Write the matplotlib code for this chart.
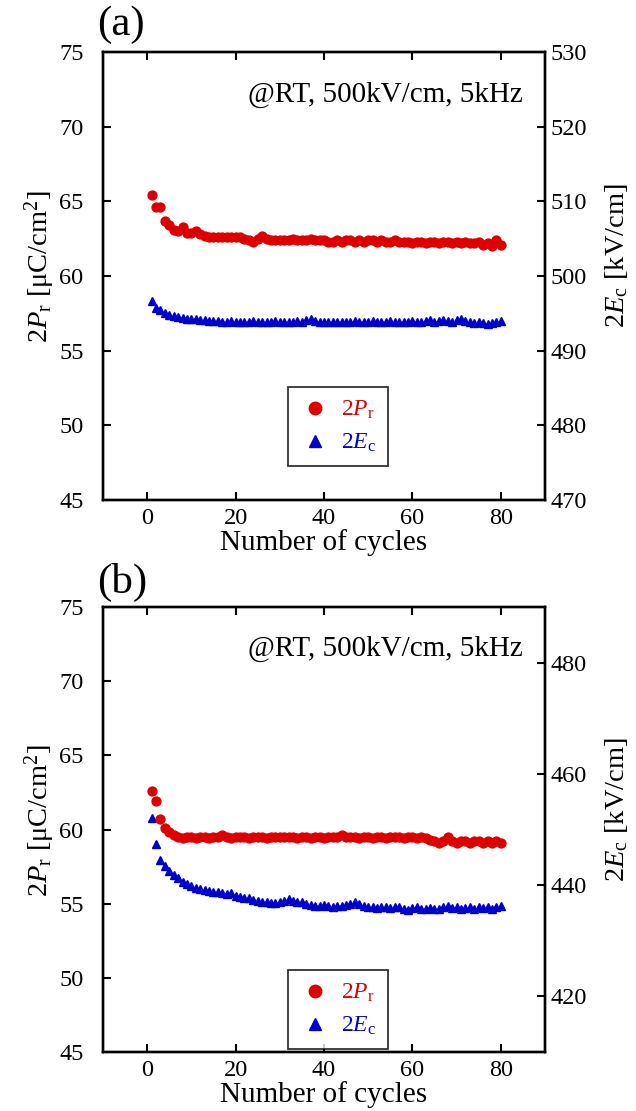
import matplotlib
matplotlib.use("Agg")
import matplotlib.pyplot as plt
import numpy as np

plt.rcParams['font.family'] = ['Liberation Serif', 'DejaVu Serif']
plt.rcParams['mathtext.fontset'] = 'custom'
plt.rcParams['mathtext.rm'] = 'Liberation Serif'
plt.rcParams['mathtext.it'] = 'Liberation Serif:italic'
plt.rcParams['mathtext.bf'] = 'Liberation Serif:bold'

cycles = list(range(1, 81))

# Panel (a)
pr_a = [65.4, 64.6, 64.6, 63.7, 63.4, 63.1, 63.0, 63.3, 62.9, 62.9,
        63.0, 62.8, 62.7, 62.6, 62.6, 62.6, 62.6, 62.6, 62.6, 62.6,
        62.6, 62.5, 62.4, 62.3, 62.5, 62.7, 62.5, 62.4, 62.4, 62.4,
        62.4, 62.4, 62.5, 62.4, 62.4, 62.4, 62.5, 62.4, 62.4, 62.4,
        62.3, 62.3, 62.4, 62.3, 62.4, 62.4, 62.3, 62.4, 62.3, 62.4,
        62.4, 62.3, 62.4, 62.3, 62.3, 62.4, 62.3, 62.3, 62.3, 62.2,
        62.3, 62.3, 62.2, 62.3, 62.3, 62.2, 62.3, 62.3, 62.2, 62.3,
        62.2, 62.3, 62.2, 62.2, 62.3, 62.1, 62.2, 62.0, 62.4, 62.1]
ec_a = [496.6, 495.7, 495.5, 495.0, 494.8, 494.6, 494.5, 494.4, 494.3, 494.2,
        494.2, 494.1, 494.1, 494.0, 494.0, 494.0, 493.9, 493.9, 494.0, 493.9,
        493.9, 493.9, 493.9, 494.0, 493.9, 493.9, 493.9, 493.9, 494.0, 493.9,
        493.9, 493.9, 493.9, 494.0, 493.9, 494.1, 494.3, 494.0, 493.9, 493.9,
        493.8, 493.9, 493.9, 493.8, 493.9, 493.9, 494.0, 493.9, 493.8, 493.9,
        494.0, 493.9, 493.9, 493.9, 494.0, 493.8, 493.9, 493.9, 493.9, 494.0,
        493.9, 493.9, 494.0, 494.1, 493.9, 494.0, 494.1, 494.0, 493.9, 494.1,
        494.2, 494.0, 493.8, 493.7, 493.8, 493.7, 493.6, 493.7, 493.8, 494.0]

# Panel (b)
pr_b = [62.6, 61.9, 60.7, 60.1, 59.85, 59.6, 59.5, 59.4, 59.5, 59.5,
        59.4, 59.5, 59.5, 59.4, 59.5, 59.5, 59.6, 59.5, 59.4, 59.5,
        59.5, 59.5, 59.4, 59.5, 59.5, 59.5, 59.4, 59.5, 59.5, 59.5,
        59.5, 59.5, 59.5, 59.4, 59.5, 59.5, 59.4, 59.5, 59.5, 59.4,
        59.5, 59.5, 59.5, 59.6, 59.5, 59.5, 59.5, 59.4, 59.5, 59.5,
        59.4, 59.5, 59.5, 59.4, 59.5, 59.5, 59.5, 59.4, 59.5, 59.5,
        59.4, 59.5, 59.4, 59.3, 59.2, 59.1, 59.2, 59.5, 59.2, 59.1,
        59.2, 59.2, 59.1, 59.2, 59.2, 59.1, 59.2, 59.1, 59.2, 59.1]
ec_b = [452.0, 447.4, 444.5, 443.4, 442.6, 441.8, 441.2, 440.6, 440.2, 439.8,
        439.5, 439.3, 439.1, 438.9, 438.8, 438.8, 438.6, 438.4, 438.5, 438.1,
        437.9, 437.6, 437.7, 437.3, 437.2, 437.0, 436.9, 436.8, 436.8, 436.9,
        437.2, 437.5, 437.2, 436.9, 436.9, 436.6, 436.4, 436.2, 436.2, 436.4,
        436.2, 436.1, 436.3, 436.2, 436.4, 436.6, 437.0, 436.6, 436.3, 436.0,
        436.1, 435.9, 436.0, 436.1, 435.9, 436.0, 436.1, 435.8, 435.5, 435.9,
        436.0, 435.7, 435.8, 435.9, 435.7, 435.8, 436.0, 436.2, 435.9, 436.0,
        435.7, 435.9, 436.1, 435.8, 436.0, 435.9, 436.1, 435.8, 436.0, 436.2]

x_ticks = [0, 20, 40, 60, 80]
left_ticks = [45, 50, 55, 60, 65, 70, 75]
right_ticks_a = [470, 480, 490, 500, 510, 520, 530]
right_ticks_b = [420, 440, 460, 480]

RED = '#dd0000'
BLUE = '#0000cc'

fig = plt.figure(figsize=(6.36, 11.11), dpi=100)

panels = [
    dict(rect=[0.1619, 0.550, 0.695, 0.4032], pr=pr_a, ec=ec_a, rlim=(470, 530),
         rticks=right_ticks_a, tag='(a)', tag_y=0.978, leg=(0.419, 0.252)),
    dict(rect=[0.1619, 0.0531, 0.695, 0.4005], pr=pr_b, ec=ec_b, rlim=(410, 490),
         rticks=right_ticks_b, tag='(b)', tag_y=0.476, leg=(0.419, 0.184)),
]

for p in panels:
    ax = fig.add_axes(p['rect'])
    ax2 = ax.twinx()
    h1, = ax.plot(cycles, p['pr'], 'o', color=RED, ms=6.4, mec=RED, ls='none',
                  label=r'2$\mathit{P}_{\mathrm{r}}$')
    h2, = ax2.plot(cycles, p['ec'], '^', color=BLUE, ms=6.4, mec=BLUE, ls='none',
                   label=r'2$\mathit{E}_{\mathrm{c}}$')
    ax.set_xlim(-10, 90)
    ax.set_ylim(45, 75)
    ax2.set_ylim(*p['rlim'])
    ax.set_xticks(x_ticks)
    ax.set_yticks(left_ticks)
    ax2.set_yticks(p['rticks'])
    for a in (ax, ax2):
        for s in a.spines.values():
            s.set_linewidth(1.7)
    ax.tick_params(axis='x', direction='in', top=True, length=6, width=1.5,
                   labelsize=17.5, pad=6)
    ax.tick_params(axis='y', direction='in', right=False, length=6, width=1.5,
                   labelsize=17.5, pad=14)
    ax2.tick_params(axis='y', direction='in', length=6, width=1.5,
                    labelsize=17.5, pad=4)
    ax.set_xlabel('Number of cycles', fontsize=21, labelpad=0)
    ax.set_ylabel(r'2$\mathit{P}_{\mathrm{r}}$ [μC/cm$^{2}$]', fontsize=20.5)
    ax2.set_ylabel(r'2$\mathit{E}_{\mathrm{c}}$ [kV/cm]', fontsize=20.5)
    ax.yaxis.set_label_coords(-0.105, 0.52)
    ax2.yaxis.set_label_coords(1.131, 0.545)
    ax.text(0.95, 0.905, '@RT, 500kV/cm, 5kHz', transform=ax.transAxes,
            ha='right', va='center', fontsize=21)
    fig.text(0.152, p['tag_y'], p['tag'], fontsize=31, ha='left', va='center')
    leg = ax.legend(handles=[h1, h2], loc='upper left', bbox_to_anchor=p['leg'],
                    fontsize=17, frameon=True, fancybox=False, markerscale=1.4,
                    handletextpad=0.45, handlelength=1.3, borderpad=0.5,
                    borderaxespad=0, labelspacing=0.45)
    leg.get_frame().set_edgecolor('black')
    leg.get_frame().set_linewidth(1.3)
    for t, c in zip(leg.get_texts(), (RED, BLUE)):
        t.set_color(c)
    ax.set_zorder(ax2.get_zorder() + 1)
    ax.patch.set_visible(False)

fig.savefig('out.png', dpi=100)
